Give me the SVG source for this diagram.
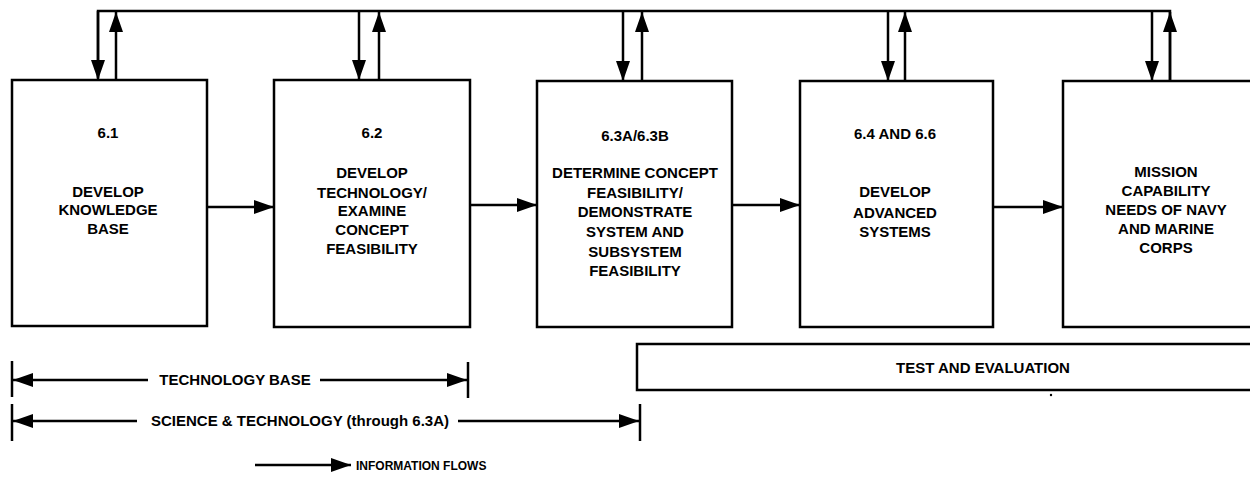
<svg xmlns="http://www.w3.org/2000/svg" width="1250" height="504" viewBox="0 0 1250 504">
<defs>
<marker id="ah" markerWidth="20" markerHeight="14" refX="20" refY="7" orient="auto" markerUnits="userSpaceOnUse">
<path d="M0,0 L20,7 L0,14 Z" fill="#000"/>
</marker>
<style>
.box{fill:#fff;stroke:#000;stroke-width:2.5}
.ln{fill:none;stroke:#000;stroke-width:2.5}
.ar{fill:none;stroke:#000;stroke-width:2.5;marker-end:url(#ah)}
text{font-family:"Liberation Sans",Arial,sans-serif;font-weight:bold;font-size:15px;fill:#000;text-anchor:middle}
.sm{font-size:12px;text-anchor:start}
</style>
</defs>
<rect width="1250" height="504" fill="#fff"/>
<g id="connectors">
<path class="ln" d="M98,78 L98,11 L1170,11 L1170,81"/>
<line class="ar" x1="98" y1="11" x2="98" y2="80"/>
<line class="ar" x1="116" y1="80" x2="116" y2="12"/>
<line class="ar" x1="359" y1="11" x2="359" y2="80"/>
<line class="ar" x1="379" y1="80" x2="379" y2="12"/>
<line class="ar" x1="623" y1="11" x2="623" y2="81"/>
<line class="ar" x1="642" y1="81" x2="642" y2="12"/>
<line class="ar" x1="888" y1="11" x2="888" y2="81"/>
<line class="ar" x1="905" y1="81" x2="905" y2="12"/>
<line class="ar" x1="1152" y1="11" x2="1152" y2="81"/>
<line class="ar" x1="1170" y1="81" x2="1170" y2="12"/>
<line class="ar" x1="207" y1="207" x2="274" y2="207"/>
<line class="ar" x1="470" y1="205" x2="537" y2="205"/>
<line class="ar" x1="732" y1="205" x2="800" y2="205"/>
<line class="ar" x1="993" y1="207" x2="1063" y2="207"/>
</g>
<g id="n61">
<rect class="box" x="12" y="80" width="195" height="246"/>
<text x="108" y="138">6.1</text>
<text x="108" y="197">DEVELOP</text>
<text x="108" y="215">KNOWLEDGE</text>
<text x="108" y="234">BASE</text>
</g>
<g id="n62">
<rect class="box" x="274" y="80" width="196" height="247"/>
<text x="372" y="138">6.2</text>
<text x="372" y="178">DEVELOP</text>
<text x="372" y="198">TECHNOLOGY/</text>
<text x="372" y="216">EXAMINE</text>
<text x="372" y="235">CONCEPT</text>
<text x="372" y="254">FEASIBILITY</text>
</g>
<g id="n63">
<rect class="box" x="537" y="81" width="195" height="246"/>
<text x="635" y="141">6.3A/6.3B</text>
<text x="635" y="178">DETERMINE CONCEPT</text>
<text x="635" y="198">FEASIBILITY/</text>
<text x="635" y="217">DEMONSTRATE</text>
<text x="635" y="237">SYSTEM AND</text>
<text x="635" y="257">SUBSYSTEM</text>
<text x="635" y="276">FEASIBILITY</text>
</g>
<g id="n64">
<rect class="box" x="800" y="81" width="193" height="246"/>
<text x="895" y="139">6.4 AND 6.6</text>
<text x="895" y="197">DEVELOP</text>
<text x="895" y="218">ADVANCED</text>
<text x="895" y="237">SYSTEMS</text>
</g>
<g id="nmission">
<path class="box" d="M1252,81 L1063,81 L1063,327 L1252,327"/>
<text x="1166" y="177">MISSION</text>
<text x="1166" y="196">CAPABILITY</text>
<text x="1166" y="215">NEEDS OF NAVY</text>
<text x="1166" y="234">AND MARINE</text>
<text x="1166" y="253">CORPS</text>
</g>
<g id="nte">
<path class="box" d="M1252,344 L637,344 L637,390 L1252,390"/>
<text x="983" y="373">TEST AND EVALUATION</text>
<circle cx="1051" cy="395" r="1.2" fill="#000"/>
</g>
<g id="dims">
<line class="ln" x1="12" y1="361" x2="12" y2="397"/>
<line class="ln" x1="468" y1="362" x2="468" y2="398"/>
<line class="ar" x1="148" y1="380" x2="13" y2="380"/>
<line class="ar" x1="320" y1="380" x2="467" y2="380"/>
<text x="235" y="385">TECHNOLOGY BASE</text>
<line class="ln" x1="12" y1="404" x2="12" y2="441"/>
<line class="ln" x1="640" y1="404" x2="640" y2="441"/>
<line class="ar" x1="137" y1="421" x2="13" y2="421"/>
<line class="ar" x1="458" y1="421" x2="639" y2="421"/>
<text x="300" y="426">SCIENCE &amp; TECHNOLOGY (through 6.3A)</text>
</g>
<g id="legend">
<line class="ar" x1="255" y1="465" x2="351" y2="465"/>
<text class="sm" x="356" y="469.5">INFORMATION FLOWS</text>
</g>
</svg>
